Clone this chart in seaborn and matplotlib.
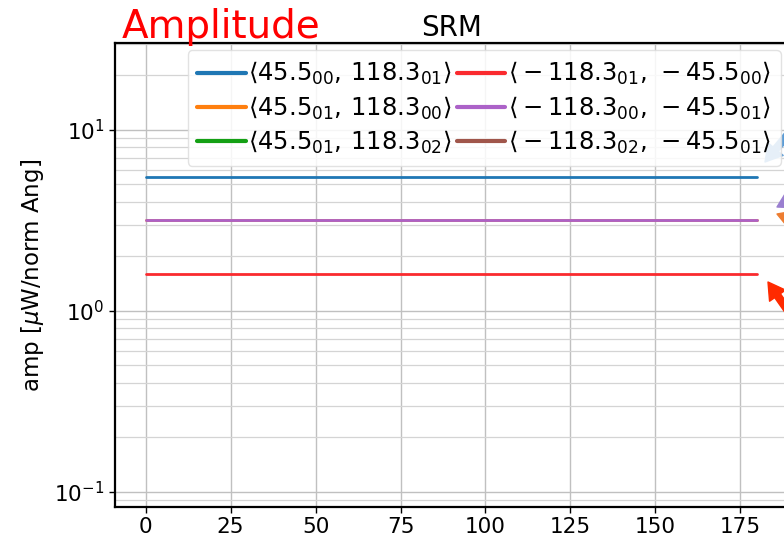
import numpy as np
import pandas as pd
import matplotlib
matplotlib.use("Agg")
import matplotlib.pyplot as plt
import seaborn as sns

# ---- data ----
times = [0, 180]
labels = [
    r"$\langle 45.5_{00},\, 118.3_{01}\rangle$",
    r"$\langle 45.5_{01},\, 118.3_{00}\rangle$",
    r"$\langle 45.5_{01},\, 118.3_{02}\rangle$",
    r"$\langle -118.3_{01},\, -45.5_{00}\rangle$",
    r"$\langle -118.3_{00},\, -45.5_{01}\rangle$",
    r"$\langle -118.3_{02},\, -45.5_{01}\rangle$",
]
amp_blue = [5.48, 5.48]
amp_orange = [3.18, 3.18]
amp_green = [0.0, 0.0]
amp_red = [1.60, 1.60]
amp_purple = [3.18, 3.18]
amp_brown = [0.0, 0.0]
series = [amp_blue, amp_orange, amp_green, amp_red, amp_purple, amp_brown]
colors = ["#1f77b4", "#ff7f0e", "#14a014", "#fa2a2e", "#ac62c8", "#a0564b"]
xticks = [0, 25, 50, 75, 100, 125, 150, 175]

sns.set_style("ticks")
plt.rcParams["font.family"] = ["DejaVu Sans"]
plt.rcParams["mathtext.fontset"] = "dejavusans"
for k in ["text.color", "axes.labelcolor", "xtick.color", "ytick.color"]:
    plt.rcParams[k] = "black"

fig = plt.figure(figsize=(7.84, 5.4), dpi=100)
ax = fig.add_axes([115 / 784, 33 / 540, 673 / 784, 464 / 540])

for lab, vals, c in zip(labels, series, colors):
    df = pd.DataFrame({"t": times, "amp": vals})
    sns.lineplot(data=df, x="t", y="amp", color=c, label=lab, ax=ax, lw=2.0)

ax.set_yscale("log")
ax.set_xlim(-9, 189)
ax.set_ylim(0.0826, 30.2)
ax.set_xticks(xticks)
ax.set_xlabel("")
ax.set_ylabel(r"amp [$\mu$W/norm Ang]", fontsize=16.5, labelpad=6, color="black")
ax.set_title("SRM", fontsize=20, pad=5, color="black")
ax.grid(True, which="major", color="#c0c0c0", lw=1.0)
ax.grid(True, which="minor", color="#d4d4d4", lw=0.9)
ax.tick_params(axis="both", which="major", labelsize=15.5, length=4, width=1,
               color="black", labelcolor="black")
ax.tick_params(axis="y", which="minor", length=0)
for s in ax.spines.values():
    s.set_color("black")
    s.set_linewidth(1.6)

leg = ax.legend(loc="upper right", ncol=2, fontsize=17.5, handlelength=2.0,
                handletextpad=0.1, columnspacing=0.2, borderpad=0.4,
                labelspacing=0.3, borderaxespad=0.3, framealpha=0.85,
                edgecolor="#dddddd", fancybox=True)
for h in leg.get_lines():
    h.set_linewidth(3)
for t in leg.get_texts():
    t.set_color("black")

# screenshot annotations
fig.text(122, 502, "Amplitude", transform=None, color="#ff0000", fontsize=28,
         va="baseline", ha="left")
arrow_specs = [
    ((800, 420), (765, 378), "#5b9bd5"),
    ((820, 356), (777, 333), "#9a7fd0"),
    ((820, 310), (777, 326), "#ed7d31"),
    ((805, 205), (768, 258), "#ff2a00"),
]
for (x0, y0), (x1, y1), c in arrow_specs:
    ax.annotate("", xy=(x1, y1), xycoords="figure pixels",
                xytext=(x0, y0), textcoords="figure pixels",
                arrowprops=dict(arrowstyle="simple,head_width=1.4,head_length=1.2,tail_width=0.5",
                                color=c, shrinkA=0, shrinkB=0),
                annotation_clip=False)

fig.savefig("out.png", dpi=100)
